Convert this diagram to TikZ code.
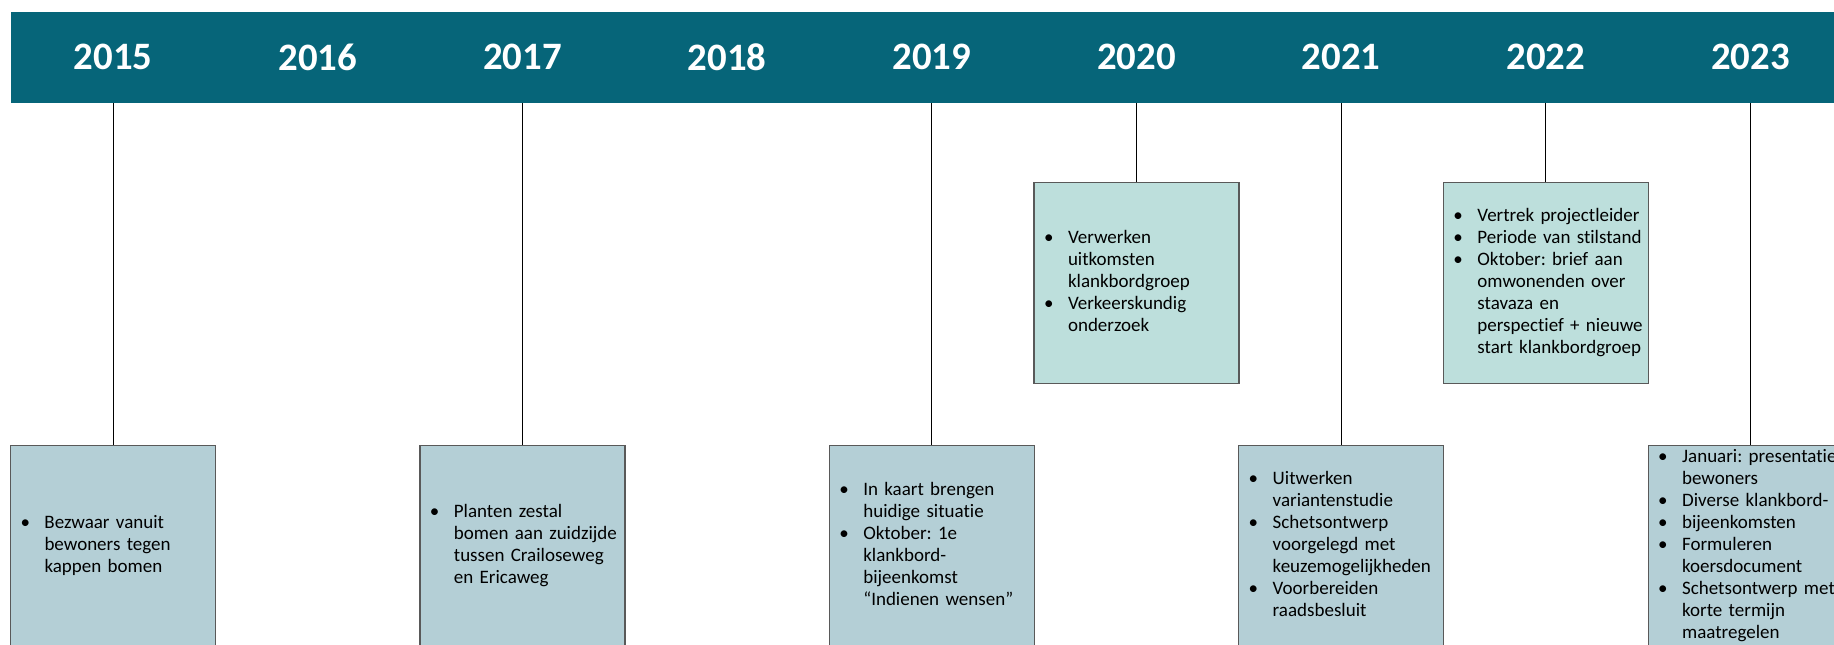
\documentclass[tikz,border=0pt]{standalone}
\usepackage{fontspec}
\setmainfont{Carlito}[Ligatures={NoCommon}]
\frenchspacing

\definecolor{band}{HTML}{066579}
\definecolor{boxlow}{HTML}{B4CFD6}
\definecolor{boxhigh}{HTML}{BDDFDC}
\newcommand{\lst}[1]{\begin{tabular}{@{}p{12pt}@{}l@{}}#1\end{tabular}}
\newcommand{\itm}{\textbullet &}

\begin{document}
\begin{tikzpicture}[x=0.5pt,y=-0.5pt]

\tikzset{year/.style = {rectangle, fill=band, text=white, minimum width=102.5pt, minimum height=45.5pt, inner sep=0pt, font=\fontsize{19.4}{23}\selectfont\bfseries}}
\tikzset{event/.style = {rectangle, draw=black!65, line width=0.6pt, anchor=north, minimum height=100.5pt, text width=92.5pt, inner xsep=5pt, inner ysep=0pt, align=left, font=\fontsize{9.5}{11}\selectfont}}
\tikzset{low/.style = {event, fill=boxlow}}
\tikzset{high/.style = {event, fill=boxhigh}}
\tikzset{link/.style = {draw=black, line width=0.5pt}}

\clip (0,0) rectangle (1834,644);
%years
\node[year] (y15) at (113,57) {2015};
\node[year] (y16) at (317.7,57) {2016};
\node[year] (y17) at (522.4,57) {2017};
\node[year] (y18) at (727.1,57) {2018};
\node[year] (y19) at (931.8,57) {2019};
\node[year] (y20) at (1136.5,57) {2020};
\node[year] (y21) at (1341.2,57) {2021};
\node[year] (y22) at (1545.9,57) {2022};
\node[year] (y23) at (1750.6,57) {2023};
%boxes
\node[low] (b15) at (113,445) {\lst{\itm Bezwaar vanuit\\ & bewoners tegen\\ & kappen bomen}};
\node[low] (b17) at (522.4,445) {\lst{\itm Planten zestal\\ & bomen aan zuidzijde\\ & tussen Crailoseweg\\ & en Ericaweg}};
\node[low] (b19) at (931.8,445) {\lst{\itm In kaart brengen\\ & huidige situatie\\ \itm Oktober: 1e\\ & klankbord-\\ & bijeenkomst\\ & “Indienen wensen”}};
\node[high] (b20) at (1136.5,182) {\lst{\itm Verwerken\\ & uitkomsten\\ & klankbordgroep\\ \itm Verkeerskundig\\ & onderzoek}};
\node[low] (b21) at (1341.2,445) {\lst{\itm Uitwerken\\ & variantenstudie\\ \itm Schetsontwerp\\ & voorgelegd met\\ & keuzemogelijkheden\\ \itm Voorbereiden\\ & raadsbesluit}};
\node[high] (b22) at (1545.9,182) {\lst{\itm Vertrek projectleider\\ \itm Periode van stilstand\\ \itm Oktober: brief aan\\ & omwonenden over\\ & stavaza en\\ & perspectief + nieuwe\\ & start klankbordgroep}};
\node[low] (b23) at (1750.6,445) {\lst{\itm Januari: presentatie\\ & bewoners\\ \itm Diverse klankbord-\\ \itm bijeenkomsten\\ \itm Formuleren\\ & koersdocument\\ \itm Schetsontwerp met\\ & korte termijn\\ & maatregelen}};
%lines
\draw[link] (y15) -- (b15);
\draw[link] (y17) -- (b17);
\draw[link] (y19) -- (b19);
\draw[link] (y20) -- (b20);
\draw[link] (y21) -- (b21);
\draw[link] (y22) -- (b22);
\draw[link] (y23) -- (b23);

\end{tikzpicture}
\end{document}
